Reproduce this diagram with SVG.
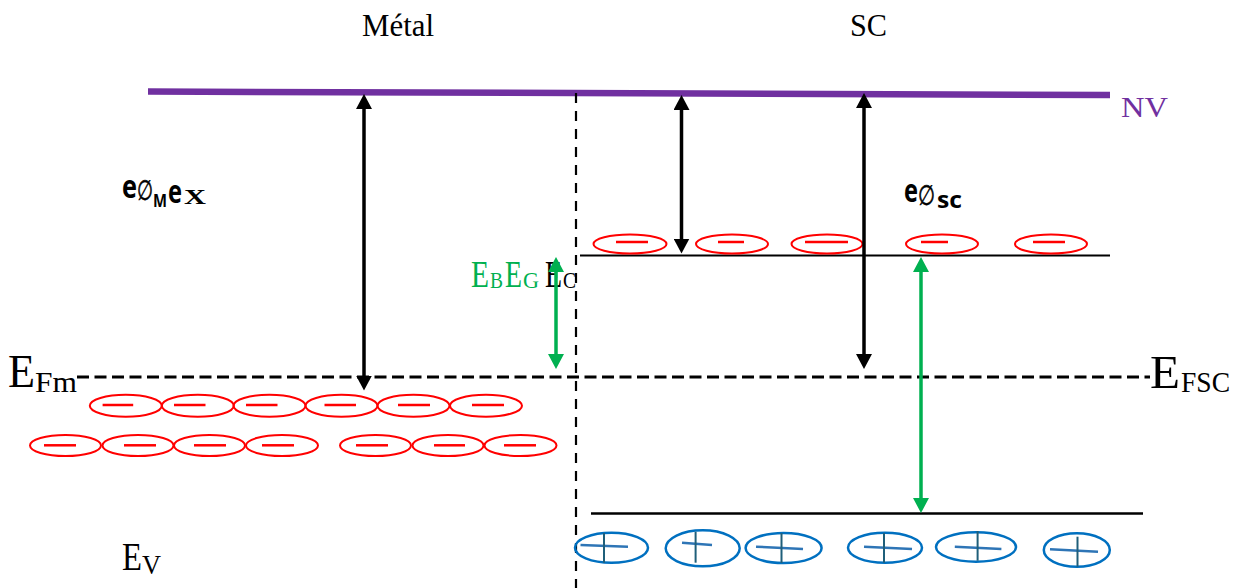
<svg xmlns="http://www.w3.org/2000/svg" width="1235" height="588" viewBox="0 0 1235 588">
<style>
.t{font-family:"Liberation Serif","Times New Roman",serif;}
.b{font-family:"Open Sans","Noto Sans","Liberation Sans",sans-serif;font-weight:700;}
.sym{font-family:"DejaVu Sans",sans-serif;}
.el{fill:none;stroke:#ff0000;stroke-width:2;}
.mn{stroke:#ff0000;stroke-width:2.5;}
.ho{fill:none;stroke:#0070c0;stroke-width:2.5;}
.hh{stroke:#2e75b6;stroke-width:2.5;}
.hv{stroke:#1f5f7a;stroke-width:2;}
.ka{stroke:#000;stroke-width:3.5;fill:none;}
.ga{stroke:#00b050;stroke-width:3.5;fill:none;}
</style>
<defs>
<marker id="ah" viewBox="0 0 15 16" refX="9" refY="8" markerWidth="15" markerHeight="16" markerUnits="userSpaceOnUse" orient="auto-start-reverse"><path d="M0,0 L15,8 L0,16 Z" fill="#000"/></marker>
<marker id="gh" viewBox="0 0 15 16" refX="9" refY="8" markerWidth="15" markerHeight="16" markerUnits="userSpaceOnUse" orient="auto-start-reverse"><path d="M0,0 L15,8 L0,16 Z" fill="#00b050"/></marker>
</defs>
<rect width="1235" height="588" fill="#fff"/>

<g id="labels">
<text class="t" x="362" y="36" font-size="31" textLength="72" lengthAdjust="spacingAndGlyphs">Métal</text>
<text class="t" x="850" y="36" font-size="31" textLength="37" lengthAdjust="spacingAndGlyphs">SC</text>
<text class="t" x="1121" y="117" font-size="30" fill="#7030a0" textLength="47" lengthAdjust="spacingAndGlyphs">NV</text>
</g>

<g id="levels">
<line x1="148" y1="91.5" x2="1110" y2="95" stroke="#7030a0" stroke-width="6.5"/>
<line x1="576" y1="93" x2="576" y2="588" stroke="#000" stroke-width="2.2" stroke-dasharray="10 8"/>
<line x1="77" y1="377" x2="1150" y2="377" stroke="#000" stroke-width="3" stroke-dasharray="12 5.5"/>
<line x1="580" y1="255.5" x2="1110" y2="255.5" stroke="#000" stroke-width="2"/>
<line x1="591" y1="513.5" x2="1143" y2="513.5" stroke="#000" stroke-width="2.5"/>
</g>

<g id="level-labels">
<text class="t" x="8" y="387" font-size="47" textLength="27" lengthAdjust="spacingAndGlyphs">E</text>
<text class="t" x="35" y="392" font-size="30" textLength="42" lengthAdjust="spacingAndGlyphs">Fm</text>
<text class="t" x="1150" y="388" font-size="47" textLength="30" lengthAdjust="spacingAndGlyphs">E</text>
<text class="t" x="1181" y="392" font-size="30" textLength="49" lengthAdjust="spacingAndGlyphs">FSC</text>
<text class="t" x="122" y="570" font-size="39" textLength="20" lengthAdjust="spacingAndGlyphs">E</text>
<text class="t" x="142" y="574" font-size="27" textLength="19" lengthAdjust="spacingAndGlyphs">V</text>
<text class="t" x="471" y="287" font-size="38" fill="#00b050" textLength="18" lengthAdjust="spacingAndGlyphs">E</text>
<text class="t" x="490" y="288" font-size="23" fill="#00b050" textLength="13" lengthAdjust="spacingAndGlyphs">B</text>
<text class="t" x="505" y="287" font-size="38" fill="#00b050" textLength="17" lengthAdjust="spacingAndGlyphs">E</text>
<text class="t" x="523" y="288" font-size="23" fill="#00b050" textLength="16" lengthAdjust="spacingAndGlyphs">G</text>
<text class="t" x="545" y="287" font-size="38" textLength="17" lengthAdjust="spacingAndGlyphs">E</text>
<text class="t" x="563" y="288" font-size="23" textLength="13" lengthAdjust="spacingAndGlyphs">C</text>
</g>

<g id="workfunction-metal">
<text class="b" x="122" y="198" font-size="32" textLength="15" lengthAdjust="spacingAndGlyphs">e</text>
<text class="sym" x="137" y="200" font-size="28" stroke="#000" stroke-width="0.6" textLength="16" lengthAdjust="spacingAndGlyphs">∅</text>
<text class="b" x="153" y="207" font-size="18" textLength="14" lengthAdjust="spacingAndGlyphs">M</text>
<text class="b" x="168" y="203" font-size="32" textLength="14" lengthAdjust="spacingAndGlyphs">e</text>
<text class="t" x="184" y="204" font-size="22" font-weight="bold" textLength="22" lengthAdjust="spacingAndGlyphs">X</text>
</g>

<g id="workfunction-sc">
<text class="b" x="904" y="202" font-size="32" textLength="14" lengthAdjust="spacingAndGlyphs">e</text>
<text class="sym" x="918" y="205" font-size="28" stroke="#000" stroke-width="0.6" textLength="17" lengthAdjust="spacingAndGlyphs">∅</text>
<text class="b" x="937" y="208" font-size="24" textLength="25" lengthAdjust="spacingAndGlyphs">sc</text>
</g>

<g id="electrons-metal">
<ellipse class="el" cx="125.8" cy="405.7" rx="36" ry="11"/>
<ellipse class="el" cx="197.8" cy="405.7" rx="36" ry="11"/>
<ellipse class="el" cx="269.5" cy="405.7" rx="36" ry="11"/>
<ellipse class="el" cx="341.5" cy="405.7" rx="36" ry="11"/>
<ellipse class="el" cx="413.5" cy="405.7" rx="36" ry="11"/>
<ellipse class="el" cx="486" cy="405.7" rx="36" ry="11"/>
<line class="mn" x1="102.6" y1="405" x2="133.2" y2="405"/>
<line class="mn" x1="174" y1="405" x2="205.5" y2="405"/>
<line class="mn" x1="246" y1="405" x2="277.5" y2="405"/>
<line class="mn" x1="324.5" y1="405" x2="356" y2="405"/>
<line class="mn" x1="398" y1="405" x2="430" y2="405"/>
<line class="mn" x1="472" y1="405" x2="504" y2="405"/>
<ellipse class="el" cx="65.5" cy="445.5" rx="35.5" ry="10.5"/>
<ellipse class="el" cx="138" cy="445.5" rx="35.5" ry="10.5"/>
<ellipse class="el" cx="209.5" cy="445.5" rx="35.5" ry="10.5"/>
<ellipse class="el" cx="282" cy="445.5" rx="36" ry="10.5"/>
<ellipse class="el" cx="375.5" cy="445.5" rx="35.5" ry="10.5"/>
<ellipse class="el" cx="448" cy="445.5" rx="35.5" ry="10.5"/>
<ellipse class="el" cx="520.5" cy="445.5" rx="36" ry="10.5"/>
<line class="mn" x1="44" y1="445.3" x2="76" y2="445.3"/>
<line class="mn" x1="124" y1="445.3" x2="156" y2="445.3"/>
<line class="mn" x1="194" y1="445.3" x2="226" y2="445.3"/>
<line class="mn" x1="262" y1="445.3" x2="294" y2="445.3"/>
<line class="mn" x1="356" y1="445.3" x2="388" y2="445.3"/>
<line class="mn" x1="434" y1="445.3" x2="465" y2="445.3"/>
<line class="mn" x1="504" y1="445.3" x2="536" y2="445.3"/>
</g>

<g id="electrons-sc">
<ellipse class="el" cx="630" cy="244" rx="36.5" ry="9.5"/>
<ellipse class="el" cx="732" cy="244" rx="36" ry="9.5"/>
<ellipse class="el" cx="827" cy="244" rx="35.5" ry="9.5"/>
<ellipse class="el" cx="942" cy="244" rx="36" ry="9.5"/>
<ellipse class="el" cx="1051" cy="244" rx="36" ry="9.5"/>
<line class="mn" x1="616" y1="242" x2="648" y2="242"/>
<line class="mn" x1="718" y1="242" x2="744" y2="242"/>
<line class="mn" x1="805" y1="242" x2="848" y2="242"/>
<line class="mn" x1="921" y1="242" x2="948" y2="242"/>
<line class="mn" x1="1033" y1="242" x2="1065" y2="242"/>
</g>

<g id="holes-sc">
<ellipse class="ho" cx="611.5" cy="547.7" rx="36.5" ry="15"/>
<ellipse class="ho" cx="702.7" cy="548.3" rx="37" ry="18"/>
<ellipse class="ho" cx="783.6" cy="548" rx="38" ry="15"/>
<ellipse class="ho" cx="885" cy="547.7" rx="37" ry="15"/>
<ellipse class="ho" cx="976" cy="547" rx="40" ry="14.7"/>
<ellipse class="ho" cx="1076.8" cy="550" rx="33" ry="16.7"/>
<line class="hh" x1="580.5" y1="545" x2="628" y2="546.7"/>
<line class="hv" x1="604" y1="533" x2="604" y2="562.7"/>
<line class="hh" x1="682" y1="542.7" x2="712" y2="545"/>
<line class="hv" x1="695.6" y1="531.7" x2="695.6" y2="562.7"/>
<line class="hh" x1="756" y1="546.7" x2="803" y2="549"/>
<line class="hv" x1="781.5" y1="533" x2="781.5" y2="563"/>
<line class="hh" x1="864" y1="546.7" x2="912" y2="549"/>
<line class="hv" x1="884" y1="533" x2="884" y2="562.7"/>
<line class="hh" x1="954.8" y1="546.7" x2="1001.4" y2="549"/>
<line class="hv" x1="977.6" y1="531" x2="977.6" y2="560.7"/>
<line class="hh" x1="1050" y1="549.3" x2="1098" y2="551.7"/>
<line class="hv" x1="1077.5" y1="536.7" x2="1077.5" y2="566.7"/>
</g>

<g id="connectors">
<line class="ka" x1="364" y1="100" x2="364" y2="384.5" marker-start="url(#ah)" marker-end="url(#ah)"/>
<line class="ka" x1="681.5" y1="101" x2="681.5" y2="247.5" marker-start="url(#ah)" marker-end="url(#ah)"/>
<line class="ka" x1="864" y1="99" x2="864" y2="363" marker-start="url(#ah)" marker-end="url(#ah)"/>
<line class="ga" x1="556" y1="263" x2="556" y2="363" marker-start="url(#gh)" marker-end="url(#gh)"/>
<line class="ga" x1="921" y1="263" x2="921" y2="507" marker-start="url(#gh)" marker-end="url(#gh)"/>
</g>
</svg>
